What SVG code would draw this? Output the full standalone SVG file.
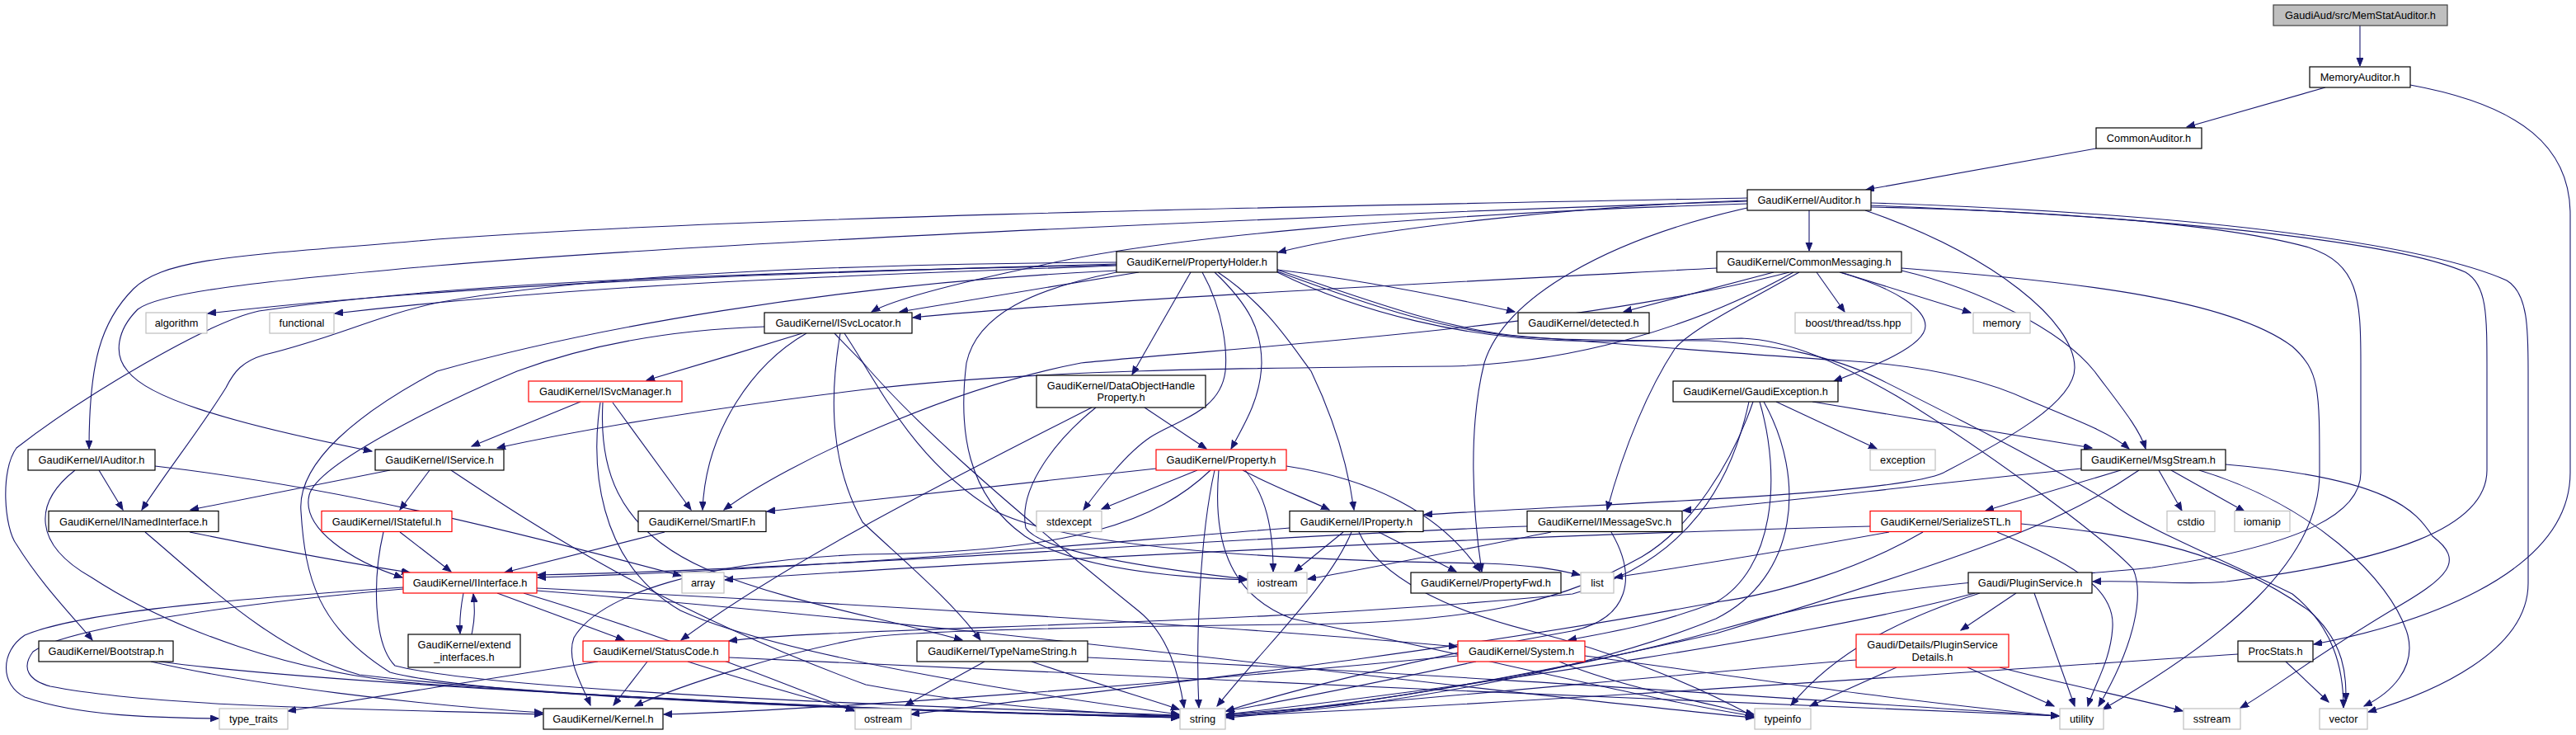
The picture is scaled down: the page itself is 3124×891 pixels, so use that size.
<svg xmlns="http://www.w3.org/2000/svg" width="3124" height="891" viewBox="0 0 3124 891">
<style>
.n rect{fill:#fff;stroke:#000;stroke-width:1.2}
.r rect{stroke:#ff0000}
.g rect{stroke:#bfbfbf}
.root rect{fill:#bfbfbf;stroke:#404040}
text{font-family:"Liberation Sans",Arial,Helvetica,sans-serif;font-size:12.8px;text-anchor:middle;fill:#000}
#edges path{fill:none;stroke:#191970;stroke-width:1.1;marker-end:url(#a)}
</style>
<defs>
<marker id="a" markerUnits="userSpaceOnUse" markerWidth="12" markerHeight="9" refX="10" refY="4" orient="auto"><path d="M0,0 L10,4 L0,8 z" fill="#191970" stroke="#191970" stroke-width="1"/></marker>
</defs>
<rect width="3124" height="891" fill="#fff"/>
<g id="edges">
<path d="M2862,31 L2862,80"/>
<path d="M2820,106 L2652,154"/>
<path d="M2923,103 C3060,128 3117,180 3117,260 L3117,573 C3117,700 2920,760 2806,781"/>
<path d="M2542,180 L2263,230"/>
<path d="M2194,255 L2194,304"/>
<path d="M2119,240 C1600,250 905,262 530,290 C304,310 203,310 162,350 C122,390 108,440 108,544"/>
<path d="M2119,244 C1700,258 905,290 530,322 C304,342 193,355 167,375 C142,400 137,430 155,450 C178,480 264,510 451,547"/>
<path d="M2119,247 C1700,260 1400,290 1261,322 C1152,345 1080,365 1057,378"/>
<path d="M2119,243 C1900,250 1650,280 1550,306"/>
<path d="M2119,252 C1950,290 1825,360 1800,440 C1780,520 1786,620 1797,693"/>
<path d="M2262,255 C2420,310 2515,390 2516,445 C2517,490 2420,540 2357,573 C2300,600 1950,610 1727,624"/>
<path d="M2269,249 C2600,262 2900,290 2990,330 C3016,345 3016,380 3016,450 L3016,570 C3016,640 2900,680 2700,705 C2650,710 2600,703 2538,705"/>
<path d="M2269,251 C2500,256 2700,272 2800,300 C2860,320 2863,360 2863,440 L2863,573 C2863,620 2800,660 2610,688 C2450,705 2300,700 2080,765 C1900,815 1620,860 1487,867"/>
<path d="M2269,246 C2700,260 2950,300 3040,340 C3066,355 3066,400 3066,450 L3066,707 C3066,790 2950,840 2872,863"/>
<path d="M2203,330 L2237,378"/>
<path d="M2232,330 L2390,379"/>
<path d="M2151,330 L1969,378"/>
<path d="M2082,325 C1800,340 1300,365 1107,385"/>
<path d="M2306,328 C2400,350 2500,400 2540,450 C2570,490 2595,520 2602,544"/>
<path d="M2231,330 C2300,350 2335,375 2335,395 C2335,420 2270,445 2224,462"/>
<path d="M2182,330 C2110,370 2050,400 2031,423 C2000,470 1970,540 1949,618"/>
<path d="M2170,330 C1900,400 1505,420 1311,440 C1155,470 955,560 878,618"/>
<path d="M2306,325 C2500,340 2700,360 2780,420 C2813,450 2813,470 2813,573 C2813,680 2700,773 2550,860"/>
<path d="M2175,330 C2050,400 1900,440 1760,444 C1500,446 1255,448 1050,472 C860,495 710,520 603,543"/>
<path d="M1354,320 C1000,330 608,340 252,380"/>
<path d="M1354,322 C1000,335 708,345 406,380"/>
<path d="M1354,321 C1000,330 608,335 314,377 C253,390 101,480 20,543 C0,570 5,640 20,660 C51,710 91,750 112,776"/>
<path d="M1354,318 C1000,320 708,335 530,367 C456,383 405,410 321,430 C294,438 284,450 274,470 C243,520 203,570 172,618"/>
<path d="M1381,330 L1091,378"/>
<path d="M1549,327 C1655,340 1755,360 1837,378"/>
<path d="M1444,330 L1373,454"/>
<path d="M1473,330 C1515,370 1530,400 1530,440 C1529,480 1512,510 1493,544"/>
<path d="M1477,330 C1537,370 1567,420 1590,450 C1614,500 1634,560 1642,618"/>
<path d="M1458,330 C1486,380 1488,430 1486,450 C1480,500 1425,510 1395,530 C1365,550 1335,590 1314,618"/>
<path d="M1354,330 C1255,350 1185,380 1172,440 C1162,520 1172,600 1243,650 C1305,690 1425,700 1512,703"/>
<path d="M1354,328 C1000,345 708,400 530,450 C436,500 360,560 365,620 C370,700 385,760 473,815 C608,850 1210,865 1430,868"/>
<path d="M1549,329 C1660,370 1760,405 1870,410 C1950,414 2020,412 2072,413 C2150,418 2220,430 2280,460 C2360,500 2480,560 2560,610 C2600,640 2700,680 2780,720 C2830,760 2842,810 2842,858"/>
<path d="M1549,327 C1650,360 1750,400 1850,408 C2000,420 2150,432 2235,437 C2320,442 2400,457 2460,485 C2520,510 2560,525 2582,544"/>
<path d="M1549,330 C1650,380 1780,410 1900,413 C2000,416 2060,410 2112,410 C2170,412 2230,440 2300,480 C2400,540 2550,650 2587,690 C2600,720 2590,780 2545,856"/>
<path d="M973,404 C905,425 855,440 784,461"/>
<path d="M978,404 C915,440 856,520 852,618"/>
<path d="M927,396 C805,400 708,420 627,450 C555,480 385,560 375,600 C365,640 425,680 488,700"/>
<path d="M1019,404 C1006,480 1006,560 1046,633 C1096,680 1156,730 1189,776"/>
<path d="M1024,404 C1068,470 1108,560 1208,620 C1308,670 1610,680 1800,683 C1858,685 1888,690 1916,697"/>
<path d="M1012,404 C1027,420 1037,430 1047,440 C1107,510 1207,600 1380,740 C1418,770 1430,820 1436,858"/>
<path d="M704,487 L572,541"/>
<path d="M743,488 L838,618"/>
<path d="M731,488 C727,560 742,640 857,690 C955,730 1055,745 1167,776"/>
<path d="M728,488 C717,560 722,680 825,740 C955,800 1310,850 1430,866"/>
<path d="M473,570 L231,618"/>
<path d="M521,570 L485,618"/>
<path d="M547,570 C652,640 805,740 1050,830 C1210,860 1360,866 1430,868"/>
<path d="M120,570 L149,618"/>
<path d="M188,565 C405,590 608,640 826,698"/>
<path d="M91,570 C40,610 40,660 111,700 C203,760 355,820 530,830 C808,850 1210,865 1430,870"/>
<path d="M230,645 C304,660 405,680 497,694"/>
<path d="M176,645 C253,710 334,790 436,818 C708,850 1210,866 1430,869"/>
<path d="M485,645 L547,693"/>
<path d="M465,645 C452,700 452,780 479,807 C608,840 1210,860 1430,867"/>
<path d="M562,719 C558,740 557,752 558,768"/>
<path d="M572,769 C576,750 576,738 574,720"/>
<path d="M603,719 L757,776"/>
<path d="M489,712 C304,725 101,740 30,770 C0,790 0,830 30,845 C101,870 203,870 265,871"/>
<path d="M489,714 C304,730 81,760 40,790 C25,810 35,825 61,832 C203,860 508,860 658,866"/>
<path d="M651,713 C1005,730 1507,760 1767,784"/>
<path d="M635,719 C805,770 955,830 1036,862"/>
<path d="M651,716 C1207,760 1808,840 2127,870"/>
<path d="M183,802 C304,830 508,855 658,864"/>
<path d="M193,802 C405,830 1005,860 1430,870"/>
<path d="M785,802 L744,855"/>
<path d="M834,802 C905,825 975,845 1036,861"/>
<path d="M725,802 C608,820 456,845 349,862"/>
<path d="M884,797 C1305,815 2008,850 2497,868"/>
<path d="M806,645 L612,694"/>
<path d="M1388,494 L1463,544"/>
<path d="M1324,494 C1155,580 955,680 826,776"/>
<path d="M1329,494 C1284,530 1234,590 1244,640 C1264,670 1405,690 1512,702"/>
<path d="M1452,570 L1336,617"/>
<path d="M1402,568 C1255,585 1105,600 930,620"/>
<path d="M1507,570 C1545,590 1585,605 1612,618"/>
<path d="M1560,565 C1660,580 1746,620 1795,693"/>
<path d="M1473,570 C1455,650 1450,780 1454,858"/>
<path d="M1468,570 C1405,630 1305,670 1047,672 C857,680 727,720 696,773 C686,800 706,830 716,855"/>
<path d="M1478,570 C1471,650 1487,720 1567,750 C1808,800 2008,850 2127,868"/>
<path d="M1510,570 C1535,600 1544,640 1544,693"/>
<path d="M1629,645 L1570,693"/>
<path d="M1672,645 L1766,693"/>
<path d="M1564,640 C1305,660 1005,690 652,700"/>
<path d="M1639,645 C1612,710 1537,780 1476,856"/>
<path d="M1648,645 C1672,700 1757,740 1857,765 C1957,790 2057,830 2127,869"/>
<path d="M1852,638 C1505,650 1005,690 652,697"/>
<path d="M1881,645 C1755,670 1655,690 1586,702"/>
<path d="M1954,645 C1986,700 1976,750 1906,765 C1706,800 1556,840 1487,862"/>
<path d="M1194,802 L1098,855"/>
<path d="M1251,802 C1333,830 1385,845 1430,860"/>
<path d="M1319,797 C1807,820 2207,850 2497,868"/>
<path d="M2154,487 L2276,544"/>
<path d="M2198,487 L2537,543"/>
<path d="M2126,487 C2101,560 2051,640 1991,675 C1901,725 1807,755 1567,757 C1307,760 1107,765 1050,773 C955,790 825,830 770,856"/>
<path d="M2121,487 C2101,580 2051,680 1907,720 C1507,760 1005,760 884,777"/>
<path d="M2134,487 C2161,580 2151,690 2081,730 C2001,760 1956,765 1902,776"/>
<path d="M2139,487 C2191,580 2181,700 2081,750 C1907,820 1657,860 1487,868"/>
<path d="M2618,570 L2646,619"/>
<path d="M2633,570 L2722,620"/>
<path d="M2524,568 C2305,590 2155,610 2041,619"/>
<path d="M2572,570 L2408,619"/>
<path d="M2667,570 C2800,610 2900,700 2920,770 C2930,810 2900,840 2867,856"/>
<path d="M2699,563 C2900,580 2930,620 2950,650 C2990,680 2970,700 2900,740 C2800,800 2750,840 2717,858"/>
<path d="M2594,570 C2507,630 2405,670 2081,768 C1807,830 1607,860 1487,870"/>
<path d="M2268,638 C1807,650 1207,680 879,703"/>
<path d="M2291,645 C2155,670 2055,685 1958,700"/>
<path d="M2332,645 C2255,690 2155,720 2081,730 C1707,800 1305,840 1105,866"/>
<path d="M2451,635 C2610,650 2700,670 2800,740 C2845,780 2845,820 2845,850"/>
<path d="M2422,645 C2505,680 2565,710 2562,760 C2560,800 2540,830 2532,856"/>
<path d="M2445,719 L2378,764"/>
<path d="M2467,719 L2516,856"/>
<path d="M2401,719 C2305,750 2225,790 2172,855"/>
<path d="M2395,719 C2205,770 1807,830 1487,866"/>
<path d="M2300,809 L2195,856"/>
<path d="M2386,809 L2491,856"/>
<path d="M2425,809 C2505,830 2605,850 2647,862"/>
<path d="M2251,800 C2005,820 1707,850 1487,866"/>
<path d="M1790,802 C1657,830 1557,850 1487,862"/>
<path d="M1891,802 C1957,830 2057,850 2127,866"/>
<path d="M1922,795 C2105,820 2305,850 2497,868"/>
<path d="M1768,795 C1407,830 1005,860 805,866"/>
<path d="M2772,802 L2824,851"/>
<path d="M2714,793 C2305,820 1807,855 1487,868"/>
</g>
<g id="n_root" class="n root"><rect x="2757" y="6" width="211" height="25"/><text x="2862.5" y="23">GaudiAud/src/MemStatAuditor.h</text></g>
<g id="n_memoryauditor" class="n"><rect x="2801" y="81" width="122" height="25"/><text x="2862" y="98">MemoryAuditor.h</text></g>
<g id="n_commonauditor" class="n"><rect x="2542" y="155" width="128" height="25"/><text x="2606" y="172">CommonAuditor.h</text></g>
<g id="n_auditor" class="n"><rect x="2119" y="230" width="150" height="25"/><text x="2194" y="247">GaudiKernel/Auditor.h</text></g>
<g id="n_commonmessaging" class="n"><rect x="2082" y="305" width="224" height="25"/><text x="2194" y="322">GaudiKernel/CommonMessaging.h</text></g>
<g id="n_propertyholder" class="n"><rect x="1354" y="305" width="195" height="25"/><text x="1451.5" y="322">GaudiKernel/PropertyHolder.h</text></g>
<g id="n_boost" class="n g"><rect x="2177" y="379" width="141" height="25"/><text x="2247.5" y="396">boost/thread/tss.hpp</text></g>
<g id="n_memory" class="n g"><rect x="2393" y="379" width="69" height="25"/><text x="2427.5" y="396">memory</text></g>
<g id="n_detected" class="n"><rect x="1841" y="379" width="159" height="25"/><text x="1920.5" y="396">GaudiKernel/detected.h</text></g>
<g id="n_isvclocator" class="n"><rect x="927" y="379" width="179" height="25"/><text x="1016.5" y="396">GaudiKernel/ISvcLocator.h</text></g>
<g id="n_algorithm" class="n g"><rect x="177" y="379" width="74" height="25"/><text x="214" y="396">algorithm</text></g>
<g id="n_functional" class="n g"><rect x="327" y="379" width="78" height="25"/><text x="366" y="396">functional</text></g>
<g id="n_isvcmanager" class="n r"><rect x="641" y="462" width="186" height="25"/><text x="734" y="479">GaudiKernel/ISvcManager.h</text></g>
<g id="n_dohp" class="n"><rect x="1257" y="455" width="205" height="39"/><text x="1359.5" y="472">GaudiKernel/DataObjectHandle</text><text x="1359.5" y="486">Property.h</text></g>
<g id="n_gaudiexception" class="n"><rect x="2029" y="462" width="200" height="25"/><text x="2129" y="479">GaudiKernel/GaudiException.h</text></g>
<g id="n_iauditor" class="n"><rect x="34" y="545" width="154" height="25"/><text x="111" y="562">GaudiKernel/IAuditor.h</text></g>
<g id="n_iservice" class="n"><rect x="455" y="545" width="156" height="25"/><text x="533" y="562">GaudiKernel/IService.h</text></g>
<g id="n_property" class="n r"><rect x="1402" y="545" width="158" height="25"/><text x="1481" y="562">GaudiKernel/Property.h</text></g>
<g id="n_exception" class="n g"><rect x="2268" y="545" width="79" height="25"/><text x="2307.5" y="562">exception</text></g>
<g id="n_msgstream" class="n"><rect x="2524" y="545" width="175" height="25"/><text x="2611.5" y="562">GaudiKernel/MsgStream.h</text></g>
<g id="n_inamedinterface" class="n"><rect x="59" y="619.5" width="206" height="25"/><text x="162" y="636.5">GaudiKernel/INamedInterface.h</text></g>
<g id="n_istateful" class="n r"><rect x="390" y="619.5" width="158" height="25"/><text x="469" y="636.5">GaudiKernel/IStateful.h</text></g>
<g id="n_smartif" class="n"><rect x="774" y="619.5" width="155" height="25"/><text x="851.5" y="636.5">GaudiKernel/SmartIF.h</text></g>
<g id="n_stdexcept" class="n g"><rect x="1257" y="619.5" width="79" height="25"/><text x="1296.5" y="636.5">stdexcept</text></g>
<g id="n_iproperty" class="n"><rect x="1564" y="619.5" width="162" height="25"/><text x="1645" y="636.5">GaudiKernel/IProperty.h</text></g>
<g id="n_imessagesvc" class="n"><rect x="1852" y="619.5" width="188" height="25"/><text x="1946" y="636.5">GaudiKernel/IMessageSvc.h</text></g>
<g id="n_serializestl" class="n r"><rect x="2268" y="619.5" width="183" height="25"/><text x="2359.5" y="636.5">GaudiKernel/SerializeSTL.h</text></g>
<g id="n_cstdio" class="n g"><rect x="2628" y="619.5" width="58" height="25"/><text x="2657" y="636.5">cstdio</text></g>
<g id="n_iomanip" class="n g"><rect x="2710" y="619.5" width="67" height="25"/><text x="2743.5" y="636.5">iomanip</text></g>
<g id="n_iinterface" class="n r"><rect x="489" y="694" width="162" height="25"/><text x="570" y="711">GaudiKernel/IInterface.h</text></g>
<g id="n_array" class="n g"><rect x="827" y="694" width="51" height="25"/><text x="852.5" y="711">array</text></g>
<g id="n_iostream" class="n g"><rect x="1513" y="694" width="72" height="25"/><text x="1549" y="711">iostream</text></g>
<g id="n_propertyfwd" class="n"><rect x="1711" y="694" width="182" height="25"/><text x="1802" y="711">GaudiKernel/PropertyFwd.h</text></g>
<g id="n_list" class="n g"><rect x="1917" y="694" width="40" height="25"/><text x="1937" y="711">list</text></g>
<g id="n_pluginservice" class="n"><rect x="2387" y="694" width="150" height="25"/><text x="2462" y="711">Gaudi/PluginService.h</text></g>
<g id="n_extend" class="n"><rect x="495" y="769" width="136" height="40"/><text x="563" y="786">GaudiKernel/extend</text><text x="563" y="801">_interfaces.h</text></g>
<g id="n_bootstrap" class="n"><rect x="47" y="777" width="163" height="25"/><text x="128.5" y="794">GaudiKernel/Bootstrap.h</text></g>
<g id="n_statuscode" class="n r"><rect x="707" y="777" width="177" height="25"/><text x="795.5" y="794">GaudiKernel/StatusCode.h</text></g>
<g id="n_typenamestring" class="n"><rect x="1112" y="777" width="207" height="25"/><text x="1215.5" y="794">GaudiKernel/TypeNameString.h</text></g>
<g id="n_system" class="n r"><rect x="1768" y="777" width="154" height="25"/><text x="1845" y="794">GaudiKernel/System.h</text></g>
<g id="n_details" class="n r"><rect x="2251" y="769" width="185" height="40"/><text x="2343.5" y="786">Gaudi/Details/PluginService</text><text x="2343.5" y="801">Details.h</text></g>
<g id="n_procstats" class="n"><rect x="2714" y="777" width="91" height="25"/><text x="2759.5" y="794">ProcStats.h</text></g>
<g id="n_type_traits" class="n g"><rect x="266" y="859" width="83" height="25"/><text x="307.5" y="876">type_traits</text></g>
<g id="n_kernel" class="n"><rect x="659" y="859" width="145" height="25"/><text x="731.5" y="876">GaudiKernel/Kernel.h</text></g>
<g id="n_ostream" class="n g"><rect x="1037" y="859" width="68" height="25"/><text x="1071" y="876">ostream</text></g>
<g id="n_string" class="n g"><rect x="1431" y="859" width="55" height="25"/><text x="1458.5" y="876">string</text></g>
<g id="n_typeinfo" class="n g"><rect x="2128" y="859" width="68" height="25"/><text x="2162" y="876">typeinfo</text></g>
<g id="n_utility" class="n g"><rect x="2498" y="859" width="53" height="25"/><text x="2524.5" y="876">utility</text></g>
<g id="n_sstream" class="n g"><rect x="2648" y="859" width="69" height="25"/><text x="2682.5" y="876">sstream</text></g>
<g id="n_vector" class="n g"><rect x="2813" y="859" width="58" height="25"/><text x="2842" y="876">vector</text></g>
</svg>
